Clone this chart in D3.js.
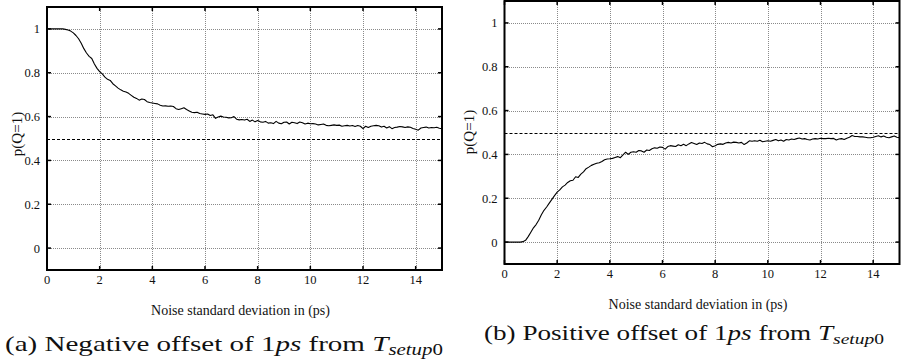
<!DOCTYPE html>
<html>
<head>
<meta charset="utf-8">
<style>
  body { margin: 0; background: #fff; }
  svg { display: block; }
  text { font-family: "Liberation Serif", "Times New Roman", serif; fill: #111; }
  .grid line { stroke: #8a8a8a; stroke-width: 1; stroke-dasharray: 1,1; shape-rendering: crispEdges; }
  .frame { fill: none; stroke: #000; stroke-width: 2; }
  .curve { fill: none; stroke: #000; stroke-width: 1.1; stroke-linejoin: round; }
  .half { stroke: #000; stroke-width: 1; stroke-dasharray: 3,2; }
</style>
</head>
<body>
<svg width="904" height="363"></svg>
<script src="https://d3js.org/d3.v7.min.js"></script>
<script>

// noise standard deviation samples (ps), 0 .. 15 step 0.1
var sigma = d3.range(151).map(function(i) { return i / 10; });

// (a) negative offset: p(Q=1)
var negOffset = [
  1, 1, 1, 1, 1, 1, 1, 0.998, 0.995, 0.99,
  0.982, 0.97, 0.955, 0.935, 0.91, 0.89, 0.875, 0.865, 0.84, 0.82,
  0.805, 0.795, 0.78, 0.77, 0.765, 0.75, 0.74, 0.73, 0.722, 0.716,
  0.712, 0.706, 0.697, 0.688, 0.683, 0.675, 0.68, 0.678, 0.668, 0.664,
  0.662, 0.66, 0.658, 0.652, 0.648, 0.649, 0.647, 0.648, 0.646, 0.636,
  0.632, 0.636, 0.64, 0.632, 0.626, 0.62, 0.618, 0.62, 0.614, 0.612,
  0.61, 0.612, 0.605, 0.608, 0.592, 0.598, 0.602, 0.598, 0.597, 0.594,
  0.595, 0.6, 0.588, 0.585, 0.587, 0.584, 0.588, 0.578, 0.584, 0.576,
  0.582, 0.576, 0.574, 0.578, 0.57, 0.572, 0.568, 0.578, 0.57, 0.567,
  0.574, 0.575, 0.566, 0.574, 0.572, 0.568, 0.575, 0.572, 0.566, 0.57,
  0.567, 0.568, 0.566, 0.562, 0.564, 0.566, 0.56, 0.558, 0.56, 0.562,
  0.56, 0.561, 0.556, 0.558, 0.56, 0.557, 0.559, 0.555, 0.559, 0.556,
  0.545, 0.556, 0.55, 0.556, 0.558, 0.56, 0.558, 0.552, 0.556, 0.548,
  0.554, 0.545, 0.55, 0.552, 0.555, 0.553, 0.55, 0.553, 0.551, 0.546,
  0.542, 0.538, 0.548, 0.55, 0.552, 0.548, 0.55, 0.549, 0.551, 0.547,
  0.545
];

// (b) positive offset: p(Q=1)
var posOffset = [
  0, 0, 0, 0, 0, 0, 0, 0.002, 0.008, 0.025,
  0.045, 0.065, 0.08, 0.1, 0.125, 0.145, 0.16, 0.178, 0.195, 0.212,
  0.228, 0.238, 0.252, 0.26, 0.272, 0.28, 0.282, 0.298, 0.295, 0.31,
  0.32, 0.335, 0.342, 0.35, 0.355, 0.36, 0.362, 0.368, 0.376, 0.379,
  0.38, 0.382, 0.386, 0.39, 0.385, 0.398, 0.41, 0.4, 0.41, 0.412,
  0.41, 0.418, 0.416, 0.41, 0.42, 0.418, 0.426, 0.43, 0.428, 0.434,
  0.432, 0.424, 0.436, 0.44, 0.438, 0.436, 0.444, 0.44, 0.446, 0.44,
  0.448, 0.454, 0.45, 0.445, 0.452, 0.45, 0.455, 0.448, 0.445, 0.435,
  0.44, 0.446, 0.448, 0.446, 0.452, 0.455, 0.452, 0.456, 0.455, 0.452,
  0.455, 0.445, 0.452, 0.462, 0.46, 0.462, 0.46, 0.465, 0.458, 0.46,
  0.462, 0.46, 0.464, 0.468, 0.462, 0.466, 0.46, 0.468, 0.466, 0.47,
  0.468, 0.472, 0.475, 0.47, 0.472, 0.468, 0.466, 0.47, 0.472, 0.47,
  0.474, 0.472, 0.472, 0.474, 0.472, 0.473, 0.466, 0.47, 0.472, 0.468,
  0.474, 0.478, 0.486, 0.482, 0.482, 0.48, 0.48, 0.478, 0.476, 0.476,
  0.478, 0.482, 0.485, 0.48, 0.484, 0.478, 0.476, 0.48, 0.484, 0.478,
  0.476
];

var xTicks = [0, 2, 4, 6, 8, 10, 12, 14];
var yTicks = [0, 0.2, 0.4, 0.6, 0.8, 1];
var refLevel = 0.5;
var xTitle = "Noise standard deviation in (ps)";
var yTitle = "p(Q=1)";

var svg = d3.select("svg");

function drawPanel(p) {
  var x = d3.scaleLinear().domain([0, 15]).range([p.left, p.right]);
  var y = d3.scaleLinear().domain([-0.1, 1.1]).range([p.bottom, p.top]);
  var g = svg.append("g");

  // grid
  var grid = g.append("g").attr("class", "grid");
  grid.selectAll(".gx").data(xTicks.slice(1)).enter().append("line")
    .attr("x1", function(d) { return Math.round(x(d)) + 0.5; })
    .attr("x2", function(d) { return Math.round(x(d)) + 0.5; })
    .attr("y1", p.top).attr("y2", p.bottom);
  grid.selectAll(".gy").data(yTicks).enter().append("line")
    .attr("y1", function(d) { return Math.round(y(d)) + 0.5; })
    .attr("y2", function(d) { return Math.round(y(d)) + 0.5; })
    .attr("x1", p.left).attr("x2", p.right);

  // 0.5 reference
  g.append("line").attr("class", "half")
    .attr("x1", p.left).attr("x2", p.right)
    .attr("y1", Math.round(y(refLevel)) + 0.5).attr("y2", Math.round(y(refLevel)) + 0.5);

  // curve
  var line = d3.line()
    .x(function(d) { return x(d[0]); })
    .y(function(d) { return y(d[1]); });
  g.append("path").attr("class", "curve")
    .attr("d", line(sigma.map(function(s, i) { return [s, p.values[i]]; })));

  // inner ticks on all sides
  var tk = g.append("g").attr("stroke", "#000").attr("stroke-width", 1.5);
  xTicks.forEach(function(d) {
    tk.append("line").attr("x1", x(d)).attr("x2", x(d)).attr("y1", p.bottom).attr("y2", p.bottom - 4);
    tk.append("line").attr("x1", x(d)).attr("x2", x(d)).attr("y1", p.top).attr("y2", p.top + 4);
  });
  yTicks.forEach(function(d) {
    tk.append("line").attr("y1", y(d)).attr("y2", y(d)).attr("x1", p.left).attr("x2", p.left + 4);
    tk.append("line").attr("y1", y(d)).attr("y2", y(d)).attr("x1", p.right).attr("x2", p.right - 4);
  });

  g.append("rect").attr("class", "frame")
    .attr("x", p.left).attr("y", p.top)
    .attr("width", p.right - p.left).attr("height", p.bottom - p.top);

  // tick labels
  g.selectAll(".xl").data(xTicks).enter().append("text")
    .attr("x", function(d) { return x(d); })
    .attr("y", p.xLabelY)
    .attr("text-anchor", "middle")
    .style("font-size", "12.5px")
    .text(function(d) { return d; });
  g.selectAll(".yl").data(yTicks).enter().append("text")
    .attr("x", p.left - 7)
    .attr("y", function(d) { return y(d) + 4.5; })
    .attr("text-anchor", "end")
    .style("font-size", "12.5px")
    .text(function(d) { return d; });

  // axis titles
  g.append("text")
    .attr("x", (p.left + p.right) / 2 - 4)
    .attr("y", p.xTitleY)
    .attr("text-anchor", "middle")
    .style("font-size", "14px")
    .text(xTitle);
  g.append("text")
    .attr("transform", "translate(" + p.yTitleX + "," + p.yTitleY + ") rotate(-90)")
    .attr("text-anchor", "middle")
    .style("font-size", "15px")
    .text(yTitle);

  // caption
  var cap = g.append("text")
    .attr("x", p.capX)
    .attr("y", p.capY)
    .style("font-size", p.capSize + "px")
    .attr("textLength", p.capW)
    .attr("lengthAdjust", "spacingAndGlyphs");
  cap.append("tspan").text(p.caption + " of 1");
  cap.append("tspan").style("font-style", "italic").text("ps");
  cap.append("tspan").text(" from ");
  cap.append("tspan").style("font-style", "italic").text("T");
  cap.append("tspan").style("font-style", "italic").style("font-size", (p.capSize * 0.72) + "px")
    .attr("dy", 4).text("setup");
  cap.append("tspan").style("font-size", (p.capSize * 0.72) + "px").text("0");
}

drawPanel({
  values: negOffset,
  left: 47, right: 442, top: 7, bottom: 270,
  xLabelY: 284, xTitleY: 315,
  yTitleX: 22, yTitleY: 134,
  caption: "(a) Negative offset",
  capX: 5, capY: 351, capSize: 22, capW: 438
});

drawPanel({
  values: posOffset,
  left: 504.5, right: 899.5, top: 1, bottom: 264,
  xLabelY: 278, xTitleY: 309,
  yTitleX: 474, yTitleY: 132,
  caption: "(b) Positive offset",
  capX: 484, capY: 340, capSize: 20.5, capW: 400
});

</script>
</body>
</html>
